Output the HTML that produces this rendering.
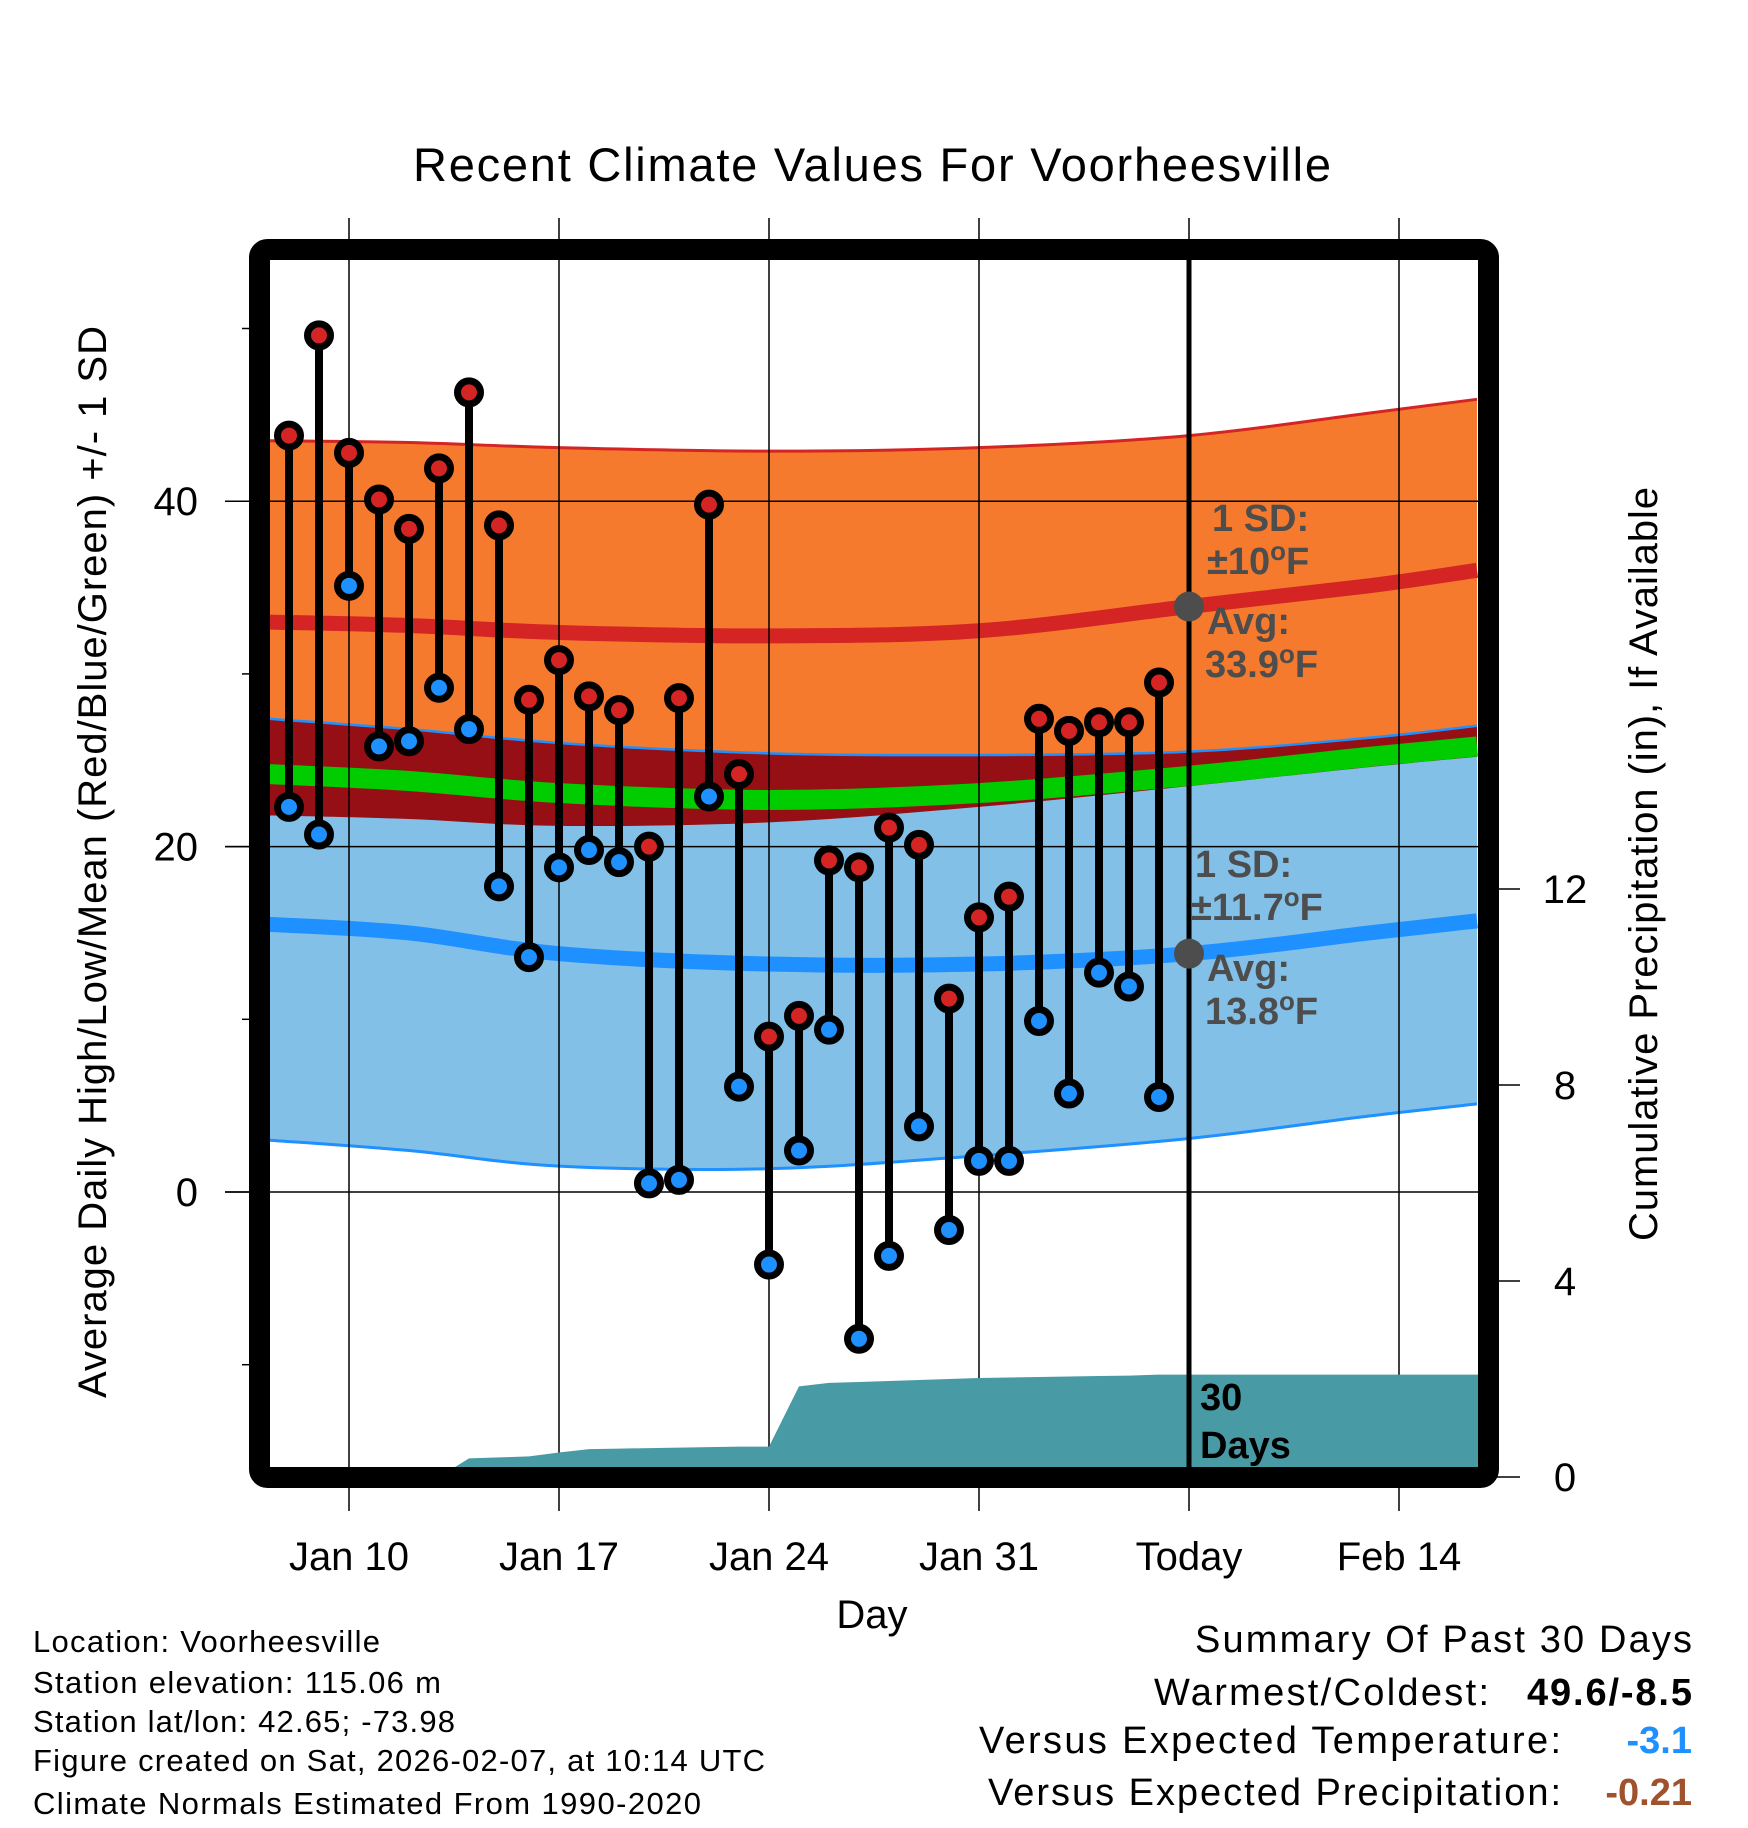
<!DOCTYPE html>
<html><head><meta charset="utf-8"><style>
html,body{margin:0;padding:0;background:#fff;}
svg{display:block;font-family:"Liberation Sans",Arial,sans-serif;}
</style></head><body>
<svg id="chart" width="1748" height="1828" viewBox="0 0 1748 1828">
<defs><clipPath id="plotclip"><rect x="270" y="260" width="1208" height="1208"/></clipPath></defs>
<g id="bands" clip-path="url(#plotclip)"></g>
<g id="grid"></g>
<g id="precip" clip-path="url(#plotclip)"></g>
<g id="marks"></g>
<g id="annot"></g>
<rect x="259.5" y="249.5" width="1229" height="1228" rx="8" fill="none" stroke="#000" stroke-width="21"/>
<g id="axes"></g>
<text x="872" y="181" text-anchor="middle" font-size="47" textLength="918">Recent Climate Values For Voorheesville</text>
<text x="872" y="1628" text-anchor="middle" font-size="40">Day</text>
<text transform="translate(106,862) rotate(-90)" text-anchor="middle" font-size="40" textLength="1072">Average Daily High/Low/Mean (Red/Blue/Green) +/- 1 SD</text>
<text transform="translate(1657,864) rotate(-90)" text-anchor="middle" font-size="40" textLength="754">Cumulative Precipitation (in), If Available</text>
<g font-size="31">
<text x="33" y="1652" textLength="347">Location: Voorheesville</text>
<text x="33" y="1693" textLength="408">Station elevation: 115.06 m</text>
<text x="33" y="1732" textLength="422">Station lat/lon: 42.65; -73.98</text>
<text x="33" y="1771" textLength="732">Figure created on Sat, 2026-02-07, at 10:14 UTC</text>
<text x="33" y="1814" textLength="668">Climate Normals Estimated From 1990-2020</text>
</g>
<g font-size="38">
<text x="1692" y="1652" text-anchor="end" textLength="497">Summary Of Past 30 Days</text>
<text x="1489" y="1705" text-anchor="end" textLength="335">Warmest/Coldest:</text>
<text x="1692" y="1705" text-anchor="end" font-weight="bold" textLength="165">49.6/-8.5</text>
<text x="1561" y="1753" text-anchor="end" textLength="582">Versus Expected Temperature:</text>
<text x="1692" y="1753" text-anchor="end" font-weight="bold" fill="#1e90ff">-3.1</text>
<text x="1561" y="1805" text-anchor="end" textLength="573">Versus Expected Precipitation:</text>
<text x="1692" y="1805" text-anchor="end" font-weight="bold" fill="#a0522d">-0.21</text>
</g>
</svg>
<script>
// ---- data ----
const dayNums = [8,9,10,11,12,13,14,15,16,17,18,19,20,21,22,23,24,25,26,27,28,29,30,31,32,33,34,35,36,37];
const highs = [43.8,49.6,42.8,40.1,38.4,41.9,46.3,38.6,28.5,30.8,28.7,27.9,20.0,28.6,39.8,24.2,9.0,10.2,19.2,18.8,21.1,20.1,11.2,15.9,17.1,27.4,26.7,27.2,27.2,29.5];
const lows = [22.3,20.7,35.1,25.8,26.1,29.2,26.8,17.7,13.6,18.8,19.8,19.1,0.5,0.7,22.9,6.1,-4.2,2.4,9.4,-8.5,-3.7,3.8,-2.2,1.8,1.8,9.9,5.7,12.7,11.9,5.5];
const precipCum = [0,0,0,0,0,0,0.38,0.40,0.42,0.50,0.57,0.58,0.59,0.60,0.61,0.62,0.62,1.85,1.92,1.94,1.96,1.98,2.00,2.02,2.03,2.04,2.05,2.06,2.07,2.09];
const normDays = [7.35,12,17,24,31,38,44,47.6];
const highUpper = [43.5,43.4,43.1,42.9,43.1,43.8,45.1,45.9];
const highMean = [33.0,32.8,32.4,32.2,32.5,33.9,35.1,36.0];
const lowUpper = [27.4,26.8,26.0,25.4,25.3,25.5,26.3,27.0];
const overlapBottom = [21.8,21.6,21.2,21.4,22.3,23.5,24.6,25.2];
const meanLine = [24.2,23.8,23.1,22.7,23.1,24.1,25.2,25.8];
const lowMean = [15.5,15.0,13.8,13.2,13.2,13.8,15.0,15.7];
const lowLower = [3.0,2.4,1.5,1.35,2.1,3.1,4.4,5.1];
const xTickDays = [10,17,24,31,38,45];
const xTickLabels = ["Jan 10","Jan 17","Jan 24","Jan 31","Today","Feb 14"];
const yTicks = [-10,0,10,20,30,40,50];
const yLabels = [0,20,40];
const pTicks = [0,4,8,12];
const todayDay = 38;
const todayHighAvg = 33.9, todayLowAvg = 13.8;

// ---- scales ----
const X = d => 349 + (d - 10) * 30;
const Y = v => 1192 - v * 17.27;
const YP = p => 1477 - p * 49;
const NS = "http://www.w3.org/2000/svg";
function mk(tag, parent, attrs) {
  const e = document.createElementNS(NS, tag);
  for (const k in attrs) e.setAttribute(k, attrs[k]);
  parent.appendChild(e);
  return e;
}
function smooth(ds, vs) {
  const p = ds.map((d, i) => [X(d), Y(vs[i])]);
  let s = "M" + p[0][0] + "," + p[0][1];
  for (let i = 0; i < p.length - 1; i++) {
    const p0 = p[i - 1] || p[i], p1 = p[i], p2 = p[i + 1], p3 = p[i + 2] || p2;
    const c1 = [p1[0] + (p2[0] - p0[0]) / 6, p1[1] + (p2[1] - p0[1]) / 6];
    const c2 = [p2[0] - (p3[0] - p1[0]) / 6, p2[1] - (p3[1] - p1[1]) / 6];
    s += " C" + c1 + " " + c2 + " " + p2;
  }
  return s;
}
function rev(ds, vs) { return smooth(ds.slice().reverse(), vs.slice().reverse()).replace(/^M/, "L"); }
function band(top, bot) { return smooth(normDays, top) + " " + rev(normDays, bot) + " Z"; }

const bands = document.getElementById("bands");
let e;
e = mk("path", bands, {d: band(lowUpper, lowLower), fill: "#82c0e8"});


e = mk("path", bands, {d: band(highUpper, lowUpper), fill: "#f57a2e"});


e = mk("path", bands, {d: band(lowUpper, overlapBottom), fill: "#960f14"});


e = mk("path", bands, {d: smooth(normDays, meanLine), fill: "none", stroke: "#00cc00", "stroke-width": 20});


e = mk("path", bands, {d: smooth(normDays, lowUpper), fill: "none", stroke: "#1e90ff", "stroke-width": 2.5});


e = mk("path", bands, {d: smooth(normDays, lowLower), fill: "none", stroke: "#1e90ff", "stroke-width": 3});


e = mk("path", bands, {d: smooth(normDays, highUpper), fill: "none", stroke: "#d42424", "stroke-width": 3});


e = mk("path", bands, {d: smooth(normDays, highMean), fill: "none", stroke: "#d42424", "stroke-width": 15});


e = mk("path", bands, {d: smooth(normDays, lowMean), fill: "none", stroke: "#1e90ff", "stroke-width": 15});



// grid
const grid = document.getElementById("grid");
xTickDays.forEach(d => {
  const l = mk("line", grid, {x1: X(d), x2: X(d), y1: 218, y2: 1511, stroke: "#000", "stroke-width": 1.5});
  
  
});
yLabels.forEach(v => {
  const l = mk("line", grid, {x1: 225, x2: 1478, y1: Y(v), y2: Y(v), stroke: "#000", "stroke-width": 1.5});
  
  
});

// precip
const pr = document.getElementById("precip");
let pd = "M" + X(7) + "," + YP(0);
dayNums.forEach((d, i) => { pd += " L" + X(d) + "," + YP(precipCum[i]); });
pd += " L" + X(48) + "," + YP(precipCum[precipCum.length - 1]) + " L" + X(48) + "," + YP(0) + " Z";
e = mk("path", pr, {d: pd, fill: "#489ba5"});



// today line
const ann = document.getElementById("annot");
e = mk("line", ann, {x1: X(todayDay), x2: X(todayDay), y1: 260, y2: 1468, stroke: "#000", "stroke-width": 5});



// marks
const mg = document.getElementById("marks");
dayNums.forEach((d, i) => {
  const s = mk("line", mg, {x1: X(d), x2: X(d), y1: Y(highs[i]), y2: Y(lows[i]), stroke: "#000", "stroke-width": 8});
  
  
});
dayNums.forEach((d, i) => {
  const h = mk("circle", mg, {cx: X(d), cy: Y(highs[i]), r: 11.5, fill: "#d42424", stroke: "#000", "stroke-width": 7});
  
  
  const l = mk("circle", mg, {cx: X(d), cy: Y(lows[i]), r: 11.5, fill: "#1e90ff", stroke: "#000", "stroke-width": 7});
  
  
});
[todayHighAvg, todayLowAvg].forEach(v => {
  const c = mk("circle", ann, {cx: X(todayDay), cy: Y(v), r: 15, fill: "#4d4d4d"});
  
  
});
function label(x, y, txt, sup, rest, name) {
  const t = mk("text", ann, {x: x, y: y, "font-size": 38, "font-weight": "bold", fill: "#4d4d4d"});
  
  
  t.textContent = txt;
  if (sup) {
    const s = mk("tspan", t, {dy: -14, "font-size": 26}); s.textContent = "o";
    const r = mk("tspan", t, {dy: 14}); r.textContent = rest;
  }
}
label(1212, 531, "1 SD:", null, null, 'high-sd-label');
label(1207, 574, "\u00b110", true, "F", 'high-sd-value');
label(1207, 634, "Avg:", null, null, 'high-avg-label');
label(1205, 677, "33.9", true, "F", 'high-avg-value');
label(1195, 877, "1 SD:", null, null, 'low-sd-label');
label(1191, 920, "\u00b111.7", true, "F", 'low-sd-value');
label(1207, 981, "Avg:", null, null, 'low-avg-label');
label(1205, 1024, "13.8", true, "F", 'low-avg-value');
e = mk("text", ann, {x: 1200, y: 1410, "font-size": 38, "font-weight": "bold"}); e.textContent = "30";


e = mk("text", ann, {x: 1200, y: 1458, "font-size": 38, "font-weight": "bold"}); e.textContent = "Days";



// axes
const ax = document.getElementById("axes");
yTicks.forEach(v => {
  const major = yLabels.indexOf(v) >= 0;
  const t = mk("line", ax, {x1: major ? 225 : 242, x2: 252, y1: Y(v), y2: Y(v), stroke: "#000", "stroke-width": 1.5});
  
  
});
yLabels.forEach(v => {
  const t = mk("text", ax, {x: 198, y: Y(v) + 14, "text-anchor": "end", "font-size": 40});
  
  
  t.textContent = v;
});
pTicks.forEach(p => {
  const t = mk("line", ax, {x1: 1496, x2: 1520, y1: YP(p), y2: YP(p), stroke: "#000", "stroke-width": 1.5});
  
  
  const l = mk("text", ax, {x: 1565, y: YP(p) + 14, "text-anchor": "middle", "font-size": 40});
  
  
  l.textContent = p;
});
xTickDays.forEach((d, i) => {
  const l = mk("text", ax, {x: X(d), y: 1570, "text-anchor": "middle", "font-size": 40});
  
  
  l.textContent = xTickLabels[i];
});
</script>
</body></html>
